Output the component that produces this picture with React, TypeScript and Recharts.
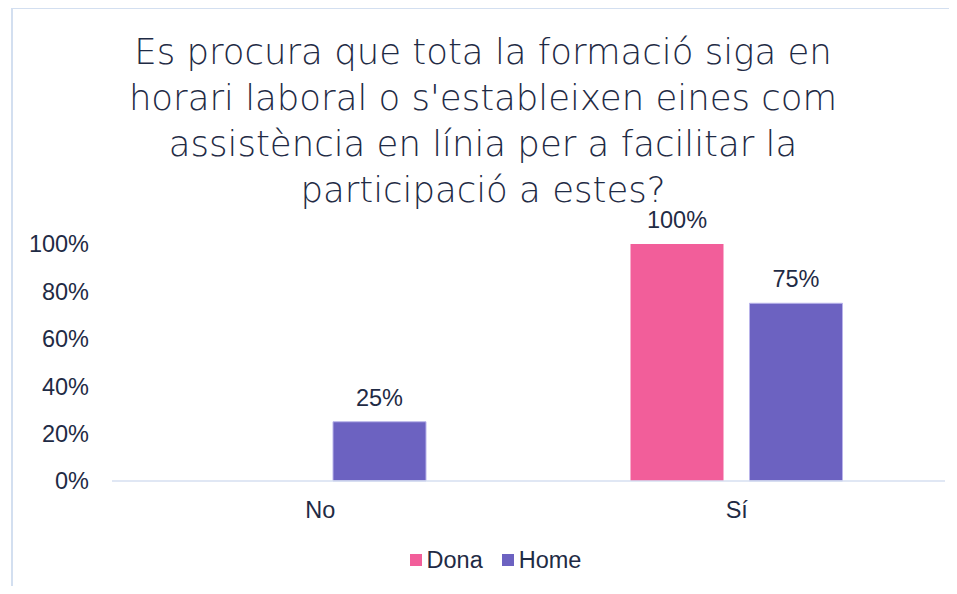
import React from "react";
import { BarChart, Bar, XAxis, YAxis, Legend, LabelList } from "recharts";

// chart data
const categories = ["No", "Sí"];
const dona = [0, 1];
const home = [0.25, 0.75];
const yTicks = [0, 0.2, 0.4, 0.6, 0.8, 1];
const titleLines = [
  "Es procura que tota la formació siga en",
  "horari laboral o s'estableixen eines com",
  "assistència en línia per a facilitar la",
  "participació a estes?",
];

const data = categories.map((c, i) => ({ cat: c, Dona: dona[i], Home: home[i] }));

const TEXT = "#1f2b45";
const PINK = "#f25e9a";
const PURPLE = "#6c62c1";
const AXIS = "#d6dff0";
const BORDER = "#d3dff0";
const FS = 23.5;

const pct = (v: any) => (v ? `${Math.round(Number(v) * 100)}%` : "");

function LegendBox(props: any) {
  const items = props.payload || [];
  return (
    <div style={{ display: "flex", justifyContent: "center", paddingLeft: 34 }}>
      {items.map((it: any, i: number) => (
        <div key={it.value} style={{ display: "flex", alignItems: "center", marginRight: i === 0 ? 19 : 0 }}>
          <span style={{ width: 12, height: 12, background: it.color, display: "inline-block", marginRight: 5 }} />
          <span style={{ fontSize: FS, color: TEXT, lineHeight: "26px" }}>{it.value}</span>
        </div>
      ))}
    </div>
  );
}

export default function App() {
  return (
    <div style={{ position: "relative", width: 941, height: 578, fontFamily: "'Liberation Sans', Arial, sans-serif" }}>
      {/* chart frame: only top and left edges are in view */}
      <div style={{ position: "absolute", left: 3, top: -1, width: 938, height: 2, background: BORDER }} />
      <div style={{ position: "absolute", left: 3, top: -1, width: 2, height: 579, background: BORDER }} />
      <div
        style={{
          position: "absolute",
          left: 0,
          top: 21,
          width: 941,
          textAlign: "center",
          fontFamily: "'DejaVu Sans', sans-serif",
          fontWeight: 200,
          fontSize: 35.5,
          lineHeight: "46px",
          color: TEXT,
          paddingLeft: 9,
          boxSizing: "border-box",
        }}
      >
        {titleLines.map((l) => (
          <div key={l}>{l}</div>
        ))}
      </div>
      <div style={{ position: "absolute", left: 0, top: 0 }}>
        <BarChart
          width={941}
          height={578}
          data={data}
          margin={{ top: 236, right: 4, left: 0, bottom: 29 }}
          barSize={93}
          barGap={26}
        >
          <XAxis
            dataKey="cat"
            tickLine={false}
            axisLine={{ stroke: AXIS, strokeWidth: 1.5 }}
            tick={{ fill: TEXT, fontSize: FS }}
            tickMargin={14}
            height={50}
          />
          <YAxis
            domain={[0, 1]}
            ticks={yTicks}
            tickFormatter={(v) => `${Math.round(v * 100)}%`}
            axisLine={false}
            tickLine={false}
            tick={{ fill: TEXT, fontSize: FS }}
            tickMargin={17}
            width={104}
          />
          <Legend
            verticalAlign="bottom"
            content={<LegendBox />}
            wrapperStyle={{ position: "absolute", top: 539, left: 0, width: 941, height: 26 }}
          />
          <Bar dataKey="Dona" fill={PINK} isAnimationActive={false}>
            <LabelList dataKey="Dona" position="top" offset={16} formatter={pct} fill={TEXT} fontSize={FS} />
          </Bar>
          <Bar dataKey="Home" fill={PURPLE} stroke="#b9b4ea" strokeWidth={1} isAnimationActive={false}>
            <LabelList dataKey="Home" position="top" offset={16} formatter={pct} fill={TEXT} fontSize={FS} />
          </Bar>
        </BarChart>
      </div>
    </div>
  );
}
